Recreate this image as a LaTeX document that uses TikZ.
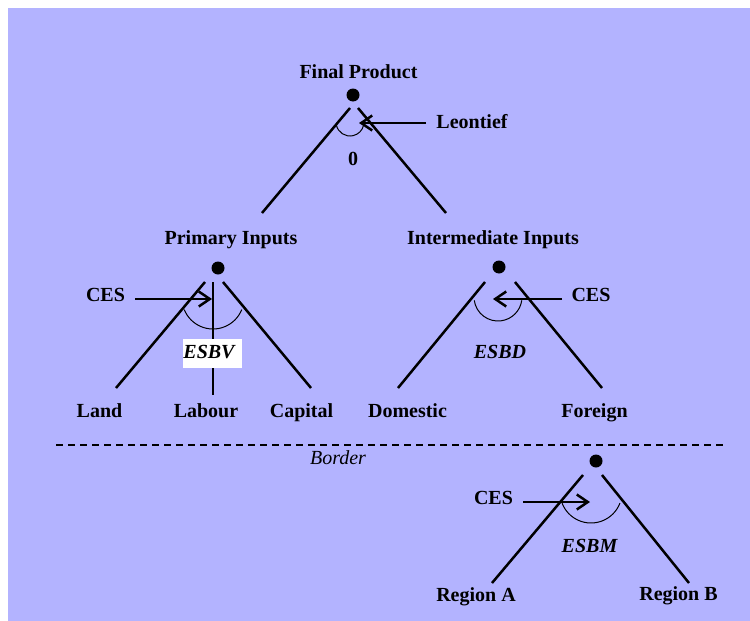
\documentclass[tikz,border=0pt]{standalone}
\usepackage{fontspec}
\setmainfont{Liberation Serif}
\usetikzlibrary{arrows.meta}
\definecolor{bg}{RGB}{179,179,255}
\begin{document}
\begin{tikzpicture}[x=1pt,y=-1pt,
  lbl/.style={font=\fontsize{20}{24}\selectfont\bfseries, inner sep=0pt, anchor=base},
  ilbl/.style={font=\fontsize{20}{24}\selectfont\bfseries\itshape, inner sep=0pt, anchor=base},
  plbl/.style={font=\fontsize{20}{24}\selectfont\itshape, inner sep=0pt, anchor=base},
  dotnode/.style={circle, fill=black, minimum size=13pt, inner sep=0pt},
  branch/.style={line width=2.5pt},
  thinarc/.style={line width=1pt},
  arr/.style={line width=2.5pt, -{Straight Barb[length=11pt,width=15pt,line width=2.5pt]}}]
\useasboundingbox (0,0) rectangle (750,621);
\fill[bg] (8,8) rectangle (750,621);

% ---------- Final product ----------
\node[lbl] (fp) at (358.5,78) {Final Product};
\node[dotnode] (fpdot) at (353,95) {};
\coordinate (fpL1) at (350,108); \coordinate (fpL2) at (262,213);
\coordinate (fpR1) at (358,108); \coordinate (fpR2) at (446,213);
\draw[branch] (fpL1) -- (fpL2);
\draw[branch] (fpR1) -- (fpR2);
\coordinate (fpc) at (350,122);
\draw[thinarc] (fpc) ++(168:14) arc[start angle=168, end angle=12, radius=14];
\node[lbl] (leon) at (472,128) {Leontief};
\coordinate (leonA) at (426,123); \coordinate (leonB) at (359,123);
\draw[arr] (leonA) -- (leonB);
\node[lbl] (zero) at (353,165) {0};

% ---------- Primary inputs ----------
\node[lbl] (pi) at (231,244) {Primary Inputs};
\node[dotnode] (pidot) at (218,268) {};
\coordinate (piL1) at (205,282); \coordinate (piL2) at (116,388);
\coordinate (piM1) at (213,282); \coordinate (piM2) at (213,395);
\coordinate (piR1) at (223,282); \coordinate (piR2) at (311,388);
\draw[branch] (piL1) -- (piL2);
\draw[branch] (piM1) -- (piM2);
\draw[branch] (piR1) -- (piR2);
\coordinate (pic) at (213,298);
\draw[thinarc] (pic) ++(158:31) arc[start angle=158, end angle=22, radius=31];
\node[lbl] (ces1) at (105.5,301) {CES};
\coordinate (ces1A) at (135,299); \coordinate (ces1B) at (212,299);
\draw[arr] (ces1A) -- (ces1B);
\fill[white] (183,339) rectangle (242,368);
\node[ilbl] (esbv) at (209,358) {ESBV};
\node[lbl] (land) at (99.5,417) {Land};
\node[lbl] (labour) at (206,417) {Labour};
\node[lbl] (capital) at (301.5,417) {Capital};

% ---------- Intermediate inputs ----------
\node[lbl] (ii) at (493,244) {Intermediate Inputs};
\node[dotnode] (iidot) at (499,267) {};
\coordinate (iiL1) at (485,282); \coordinate (iiL2) at (398,388);
\coordinate (iiR1) at (515,282); \coordinate (iiR2) at (602,388);
\draw[branch] (iiL1) -- (iiL2);
\draw[branch] (iiR1) -- (iiR2);
\coordinate (iic) at (498,297);
\draw[thinarc] (iic) ++(172:24) arc[start angle=172, end angle=8, radius=24];
\node[lbl] (ces2) at (591,301) {CES};
\coordinate (ces2A) at (562,299); \coordinate (ces2B) at (493,299);
\draw[arr] (ces2A) -- (ces2B);
\node[ilbl] (esbd) at (500,358) {ESBD};
\node[lbl] (dom) at (407.5,417) {Domestic};
\node[lbl] (for) at (594.5,417) {Foreign};

% ---------- Border ----------
\coordinate (bdA) at (56,445); \coordinate (bdB) at (727,445);
\draw[line width=2pt, dash pattern=on 7pt off 5pt] (bdA) -- (bdB);
\node[plbl] (border) at (338,464) {Border};

% ---------- Regions ----------
\node[dotnode] (rdot) at (596,461) {};
\coordinate (rL1) at (583,475); \coordinate (rL2) at (492,583);
\coordinate (rR1) at (602,475); \coordinate (rR2) at (689,583);
\draw[branch] (rL1) -- (rL2);
\draw[branch] (rR1) -- (rR2);
\coordinate (rc) at (591,492);
\draw[thinarc] (rc) ++(159:31) arc[start angle=159, end angle=21, radius=31];
\node[lbl] (ces3) at (493.5,504) {CES};
\coordinate (ces3A) at (523,502); \coordinate (ces3B) at (590,502);
\draw[arr] (ces3A) -- (ces3B);
\node[ilbl] (esbm) at (589.5,552) {ESBM};
\node[lbl] (rega) at (476,601) {Region A};
\node[lbl] (regb) at (678.5,600) {Region B};
\end{tikzpicture}
\end{document}
